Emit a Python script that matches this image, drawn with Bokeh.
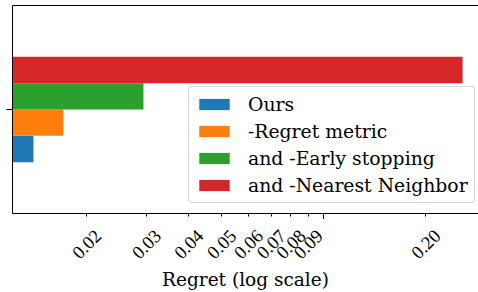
import math
from bokeh.plotting import figure
from bokeh.layouts import column
from bokeh.models import Range1d, FixedTicker, CustomJSTickFormatter, LogAxis
from bokeh.embed import file_html
from bokeh.resources import INLINE

methods = ["Ours", "-Regret metric", "and -Early stopping", "and -Nearest Neighbor"]
regret = [0.01395, 0.0171, 0.02944, 0.2571]
colors = ["#1f77b4", "#ff7f0e", "#2ca02c", "#d62728"]
minor_tick_values = [0.02, 0.03, 0.04, 0.05, 0.06, 0.07, 0.08, 0.09, 0.2]
tick_labels = ["0.02", "0.03", "0.04", "0.05", "0.06", "0.07", "0.08", "0.09", "0.20"]
major_tick_values = [0.1]

FONT = "DejaVu Serif"
FS = "18.5px"
LEFT = 12
FW = 466

x_start, x_end = 0.0121, 0.2864
xr = Range1d(x_start, x_end)
p = figure(frame_width=FW, frame_height=208, x_axis_type="log",
           x_range=xr, y_range=Range1d(-0.79, 0.79),
           output_backend="svg", toolbar_location=None,
           min_border_left=LEFT, min_border_right=0, min_border_top=5, min_border_bottom=0)

n = len(methods)
bar_h = 0.8 / n
for i, (m, r, c) in enumerate(zip(methods, regret, colors)):
    yc = -0.4 + bar_h * (i + 0.5)
    p.hbar(y=[yc], height=bar_h, left=x_start, right=[r], color=c, line_color=None,
           legend_label=m)

p.xgrid.visible = False
p.ygrid.visible = False
p.outline_line_color = None

xa = p.below[0]
xa.ticker = FixedTicker(ticks=major_tick_values, minor_ticks=minor_tick_values)
xa.formatter = CustomJSTickFormatter(code="return ''")
xa.major_label_text_color = None
xa.major_label_text_font_size = "1px"
xa.axis_line_color = "black"
xa.major_tick_line_color = "black"
xa.major_tick_out = 6
xa.major_tick_in = 0
xa.minor_tick_line_color = "black"
xa.minor_tick_out = 3
xa.minor_tick_in = 0
xa.major_label_standoff = 0

# top spine
top = LogAxis(ticker=FixedTicker(ticks=[], minor_ticks=[]),
              formatter=CustomJSTickFormatter(code="return ''"),
              axis_line_color="black", major_tick_line_color=None, minor_tick_line_color=None,
              major_label_text_color=None, major_label_text_font_size="1px",
              major_label_standoff=0, major_tick_out=0, major_tick_in=0)
p.add_layout(top, "above")

ya = p.left[0]
ya.ticker = FixedTicker(ticks=[0], minor_ticks=[])
ya.formatter = CustomJSTickFormatter(code="return ''")
ya.major_label_text_color = None
ya.major_label_text_font_size = "1px"
ya.major_tick_out = 6
ya.major_tick_in = 0
ya.major_label_standoff = 0
ya.minor_tick_line_color = None
ya.axis_line_color = "black"

lg = p.legend[0]
lg.location = (176, 10)
lg.label_text_font = FONT
lg.label_text_font_size = "18.8px"
lg.label_text_color = "black"
lg.glyph_width = 38
lg.glyph_height = 14
lg.label_height = 22
lg.label_standoff = 15
lg.spacing = 5
lg.padding = 6
lg.margin = 0
lg.border_line_color = "#cccccc"
lg.border_line_alpha = 0.8
lg.border_line_width = 1
lg.background_fill_alpha = 0.8
if "border_radius" in lg.properties():
    lg.border_radius = 4

# tick-label strip below the main plot, sharing the x range
p2 = figure(frame_width=FW, frame_height=44, x_axis_type="log",
            x_range=xr, y_range=Range1d(0, 1),
            output_backend="svg", toolbar_location=None,
            min_border_left=LEFT, min_border_right=0, min_border_top=0, min_border_bottom=0,
            outline_line_color=None)
p2.xgrid.visible = False
p2.ygrid.visible = False
p2.yaxis.visible = False
p2.text(x=minor_tick_values, y=[0.443] * len(minor_tick_values), text=tick_labels,
        angle=math.pi / 4, text_align="center", text_baseline="middle",
        text_font=FONT, text_font_size=FS, text_color="black")
xb = p2.below[0]
xb.ticker = FixedTicker(ticks=[], minor_ticks=[])
xb.axis_line_color = None
xb.major_tick_line_color = None
xb.minor_tick_line_color = None
xb.major_label_text_font_size = "1px"
xb.major_label_text_color = None
xb.major_label_standoff = 0
xb.axis_label = "Regret (log scale)"
xb.axis_label_text_font = FONT
xb.axis_label_text_font_size = FS
xb.axis_label_text_font_style = "normal"
xb.axis_label_text_color = "black"
xb.axis_label_standoff = 5

layout = column(p, p2, spacing=0)
open("out.html", "w").write(file_html(layout, INLINE))
